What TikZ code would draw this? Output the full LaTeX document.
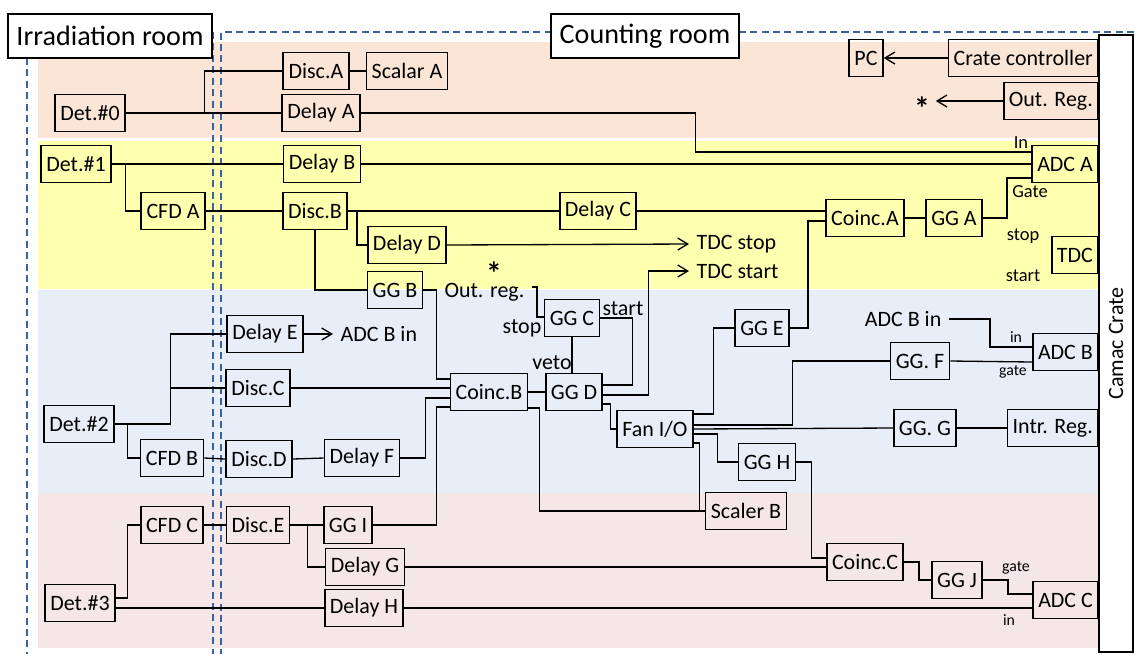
\documentclass[tikz,border=0pt]{standalone}
\usepackage{fontspec}
\setmainfont{Carlito}
\usetikzlibrary{arrows.meta,calc}
\definecolor{peach}{HTML}{FBE5D6}
\definecolor{lemon}{HTML}{FFFFB0}
\definecolor{pale}{HTML}{E8EEF7}
\definecolor{rose}{HTML}{F5E7E7}
\definecolor{roomblue}{HTML}{3A63A0}
\begin{document}
\begin{tikzpicture}[x=0.02cm, y=-0.02cm, >={Straight Barb[length=0.2cm,width=0.24cm]},
  font=\fontsize{12.5}{15}\selectfont, line width=0.75pt,
  box/.style={draw, rectangle, line width=1pt, minimum height=0.74cm, inner xsep=3pt, inner ysep=0pt},
  room/.style={draw=roomblue, line width=0.9pt, dash pattern=on 4pt off 2.5pt},
  title/.style={draw, fill=white, line width=1pt, minimum height=0.88cm, font=\fontsize{16}{19}\selectfont},
  star/.style={font=\fontsize{18}{20}\selectfont\bfseries, inner ysep=0pt, inner xsep=3pt},
  lblsmall/.style={font=\fontsize{10.5}{12}\selectfont, inner sep=1pt},
  lbltiny/.style={font=\fontsize{9}{10}\selectfont, inner sep=1pt}]
\useasboundingbox (0,0) rectangle (1134,654);
\fill[peach] (38,42) rectangle (1099,138);
\fill[lemon] (38,141) rectangle (1099,289);
\fill[pale] (38,290) rectangle (1099,493);
\fill[rose] (38,493) rectangle (1099,648);

\draw[room] (27,58) -- (27,654);
\draw[room] (213,32) -- (213,654);
\draw[room] (1134,32) -- (221,32) -- (221,654);

\node[title, minimum width=4.08cm] (irr) at (110,36) {Irradiation room};
\node[title, minimum width=3.76cm] (cnt) at (645,36) {Counting room};
\node[draw, fill=white, line width=1pt, rotate=90, minimum width=12.34cm, minimum height=0.68cm] (crate) at (1116,343.5) {Camac Crate};

\node[box] (det0) at (90,113) {Det.\#0};
\node[box] (discA) at (316,71) {Disc.A};
\node[box] (scalA) at (407,71) {Scalar A};
\node[box] (delA) at (321,113) {Delay A};
\node[box] (det1) at (76,164) {Det.\#1};
\node[box] (delB) at (322,164) {Delay B};
\node[box] (cfdA) at (173,211) {CFD A};
\node[box] (discB) at (315,211) {Disc.B};
\node[box] (delC) at (598,211) {Delay C};
\node[box] (delD) at (407,245) {Delay D};
\node[box] (ggB) at (395,290) {GG B};
\node[box] (coincA) at (865,218) {Coinc.A};
\node[box] (ggA) at (954,218) {GG A};
\node[box] (pc) at (866,58) {PC};
\node[box, anchor=east] (crtc) at (1099,58) {Crate controller};
\node[box, anchor=east] (outreg) at (1099,101) {Out. Reg.};
\node[box, anchor=east] (adcA) at (1099,164) {ADC A};
\node[box, anchor=east] (tdc) at (1099,255) {TDC};
\node[box] (ggC) at (572,318) {GG C};
\node[box] (ggD) at (574,392) {GG D};
\node[box] (coincB) at (489,392) {Coinc.B};
\node[box] (delE) at (265,334) {Delay E};
\node[box] (discC) at (258,388) {Disc.C};
\node[box] (det2) at (79,424) {Det.\#2};
\node[box] (cfdB) at (172,458) {CFD B};
\node[box] (discD) at (259,459) {Disc.D};
\node[box] (delF) at (362,458) {Delay F};
\node[box] (ggE) at (762,328) {GG E};
\node[box, anchor=east] (adcB) at (1099,352) {ADC B};
\node[box] (ggF) at (920,361) {GG. F};
\node[box] (fan) at (655,429) {Fan I/O};
\node[box] (ggG) at (925,428) {GG. G};
\node[box, anchor=east] (intr) at (1099,428) {Intr. Reg.};
\node[box] (ggH) at (767,462) {GG H};
\node[box] (scalB) at (746,511) {Scaler B};
\node[box] (cfdC) at (172,525) {CFD C};
\node[box] (discE) at (258,525) {Disc.E};
\node[box] (ggI) at (348,525) {GG I};
\node[box] (delG) at (365,567) {Delay G};
\node[box] (det3) at (80,603) {Det.\#3};
\node[box] (delH) at (364,608) {Delay H};
\node[box] (coincC) at (865,562) {Coinc.C};
\node[box] (ggJ) at (957,580) {GG J};
\node[box, anchor=east] (adcC) at (1099,600) {ADC C};

\node[anchor=west, inner xsep=4pt] (tdcstop) at (689,244) {TDC stop};
\node[anchor=west, inner xsep=4pt] (tdcstart) at (689,271) {TDC start};
\node[anchor=west, inner xsep=4pt] (adcbinE) at (333,334) {ADC B in};
\node[anchor=east, inner xsep=4pt] (adcbinB) at (949,319) {ADC B in};
\node[anchor=east, inner xsep=4pt, inner ysep=1pt] (oreg) at (532,292) {Out. reg.};
\node[star] (starC) at (494,273) {*};
\node[star] (starO) at (922,108) {*};
\node (stopC) at (522,328) {stop};
\node (startC) at (623,309) {start};
\node (vetoD) at (552,363) {veto};
\node[lblsmall] (inA) at (1021,143) {In};
\node[lblsmall] (gateA) at (1030,192) {Gate};
\node[lblsmall] (stopT) at (1023,236) {stop};
\node[lblsmall] (startT) at (1023,276) {start};
\node[lbltiny] (inB) at (1016,337) {in};
\node[lbltiny] (gateB) at (1013,372) {gate};
\node[lbltiny] (gateC) at (1016,568) {gate};
\node[lbltiny] (inC) at (1009,620) {in};

\draw (det0.east) -- (delA.west);
\draw (det0.east) -- ++(79,0) |- (discA.west);
\draw (discA.east) -- (scalA.west);
\draw (delA.east) -- ++(335,0) |- ($(adcA.west)+(0,-12)$);
\draw (det1.east) -- (delB.west);
\draw (delB.east) -- (adcA.west);
\draw (det1.east) -- ++(14,0) |- (cfdA.west);
\draw (cfdA.east) -- (discB.west);
\draw (discB.east) -- (delC.west);
\draw (discB.east) -- ++(9,0) |- (delD.west);
\draw (discB.south) |- (ggB.west);
\draw[->] (delD.east) -- (tdcstop.west);
\draw (delC.east) -- ($(coincA.west)+(0,-7)$);
\draw (ggE.east) -- ++(18,0) |- ($(coincA.west)+(0,3)$);
\draw (coincA.east) -- (ggA.west);
\draw (ggA.east) -- ++(24,0) |- ($(adcA.west)+(0,14)$);
\draw[->] (crtc.west) -- (pc.east);
\draw[->] (outreg.west) -- (starO.east |- outreg.west);

\draw (ggB.east) -- ++(13,0) |- ($(coincB.west)+(0,-13)$);
\draw (discC.east) -- ($(coincB.west)+(0,-4)$);
\draw (delF.east) -- ++(25,0) |- ($(coincB.west)+(0,6)$);
\draw (ggI.east) -- ++(63,0) |- ($(coincB.west)+(0,15)$);
\draw (coincB.east) -- (ggD.west);
\draw ($(coincB.east)+(0,16)$) -- ++(11,0) |- (scalB.west);
\draw (ggC.south) -- (ggC.south |- ggD.north);
\draw ($(ggD.east)+(0,-7)$) -- ++(29,0) |- (ggC.east);
\draw[->] ($(ggD.east)+(0,3)$) -- ++(45,0) |- (tdcstart.west);
\draw ($(ggD.east)+(0,12)$) -- ++(7,0) |- (fan.west);
\draw ($(oreg.east)+(0,-5)$) -- ++(5,0) |- ($(ggC.west)+(0,-1)$);

\draw ($(fan.east)+(0,-15)$) -- ++(20,0) |- (ggE.west);
\draw ($(fan.east)+(0,-4)$) -- ++(99,0) |- (ggF.west);
\draw (fan.east) -- (ggG.west);
\draw ($(fan.east)+(0,5)$) -- ++(24,0) |- (ggH.west);
\draw ($(fan.east)+(0,14)$) -- ++(6,0) |- (scalB.west);
\draw (ggG.east) -- (intr.west);
\draw (ggF.east) -- ($(adcB.west)+(0,10)$);
\draw (adcbinB.east) -- ++(41,0) |- ($(adcB.west)+(0,-5)$);
\draw[->] (delE.east) -- (adcbinE.west);

\draw (ggH.east) -- ++(15,0) |- ($(coincC.west)+(0,-4)$);
\draw (delG.east) -- ($(coincC.west)+(0,5)$);
\draw (coincC.east) -- ++(15,0) |- (ggJ.west);
\draw (ggJ.east) -- ++(25,0) |- ($(adcC.west)+(0,-6)$);
\draw (delH.east) -- ($(adcC.west)+(0,8)$);
\draw ($(det3.east)+(0,5)$) -- (delH.west);
\draw ($(det3.east)+(0,-5)$) -- ++(12,0) |- (cfdC.west);
\draw (cfdC.east) -- (discE.west);
\draw (discE.east) -- (ggI.west);
\draw (discE.east) -- ++(17,0) |- (delG.west);

\draw (det2.east) -- ++(56,0) |- (delE.west);
\draw (det2.east) -- ++(56,0) |- (discC.west);
\draw (det2.east) -- ++(13,0) |- (cfdB.west);
\draw (cfdB.east) -- (discD.west);
\draw (discD.east) -- (delF.west);
\end{tikzpicture}
\end{document}
